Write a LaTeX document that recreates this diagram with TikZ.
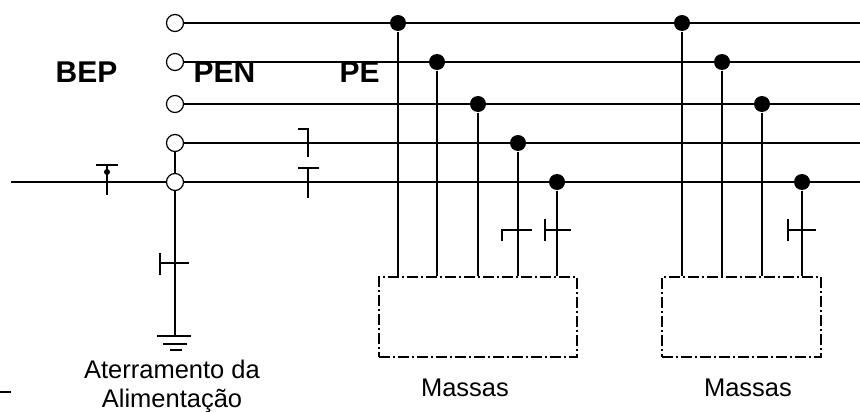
\documentclass[tikz,border=0pt]{standalone}
\usepackage{fontspec}
\setmainfont{Liberation Sans}
\usepackage{tikz}
\usetikzlibrary{positioning,calc}

\begin{document}
\begin{tikzpicture}[x=1pt,y=-1pt,line width=1.3pt,
        terminal/.style={circle,draw,fill=white,inner sep=0pt,minimum size=17pt,line width=1.2pt},
        junction/.style={circle,fill=black,inner sep=0pt,minimum size=16pt},
        massbox/.style={draw,line width=1.1pt,dash pattern=on 11pt off 3pt on 2pt off 3pt,minimum width=198pt,minimum height=80pt,inner sep=0pt},
        conductor/.style={font=\fontsize{30}{30}\selectfont\bfseries,anchor=base west,inner sep=0pt},
        caption/.style={font=\fontsize{25.5}{29}\selectfont,align=center,inner sep=0pt}]
                \useasboundingbox (0,0) rectangle (860,412);
                \node[terminal] (t1) at (175,23) {};
                \node[terminal] (t2) at (175,62) {};
                \node[terminal] (t3) at (175,104) {};
                \node[terminal] (t4) at (175,143) {};
                \node[terminal] (t5) at (175,182) {};
                \coordinate (w5) at (11,182);
                \coordinate (e1) at (860,23);
                \coordinate (e2) at (860,62);
                \coordinate (e3) at (860,104);
                \coordinate (e4) at (860,143);
                \coordinate (e5) at (860,182);
                \coordinate (gnd) at (175,336);
                \node[massbox] (m1) at (478,317) {};
                \node[massbox,minimum width=159pt] (m2) at (741.5,317) {};
                \node[junction] (a1) at (398,23) {};
                \node[junction] (a2) at (437,62) {};
                \node[junction] (a3) at (478,104) {};
                \node[junction] (a4) at (518,143) {};
                \node[junction] (a5) at (557,182) {};
                \node[junction] (b1) at (682,23) {};
                \node[junction] (b2) at (722,62) {};
                \node[junction] (b3) at (762,104) {};
                \node[junction] (b5) at (802,182) {};
                \draw (t1.east) -- (e1);
                \draw [line width=2.8pt] (t2.east) -- (e2);
                \draw (t3.east) -- (e3);
                \draw (t4.east) -- (e4);
                \draw (w5) -- (t5.west);
                \draw (t5.east) -- (e5);
                \draw (t4.south) -- (t5.north);
                \draw (t5.south) -- (gnd);
                \draw (a1) -- (a1 |- m1.north);
                \draw (a2) -- (a2 |- m1.north);
                \draw (a3) -- (a3 |- m1.north);
                \draw (a4) -- (a4 |- m1.north);
                \draw (a5) -- (a5 |- m1.north);
                \draw (b1) -- (b1 |- m2.north);
                \draw [line width=2.8pt] (b2) -- (b2 |- m2.north);
                \draw (b3) -- (b3 |- m2.north);
                \draw (b5) -- (b5 |- m2.north);
                \draw (157,336) -- (191,336);
                \draw [line width=2pt] (163,344) -- (187,344);
                \draw (170,350) -- (182,350);
                \draw (96,165) -- (118,165);
                \draw (107,165) -- (107,195);
                \fill (107,172) circle (3pt);
                \draw (298,129) -- (308,129) -- (308,157);
                \draw (298,168) -- (319,168);
                \draw (308,168) -- (308,198);
                \draw [line width=2pt] (160,253) -- (160,275);
                \draw (160,263) -- (189,263);
                \draw (502,241) -- (502,230) -- (532,230);
                \draw (545,219) -- (545,241);
                \draw (545,230) -- (571,230);
                \draw (788,219) -- (788,241);
                \draw (788,230) -- (816,230);
                \draw [line width=2pt] (0,392) -- (11,392);
                \node[conductor] (bep) at (55,83) {BEP};
                \node[conductor] (pen) at (193,83) {PEN};
                \node[conductor] (pe) at (339,83) {PE};
                \node[caption,anchor=base] (aterr) at (172,407) {Aterramento da\\Alimentação};
                \node[caption,anchor=base] (mass1) at (465,396) {Massas};
                \node[caption,anchor=base] (mass2) at (748,396) {Massas};
            \end{tikzpicture}
\end{document}
